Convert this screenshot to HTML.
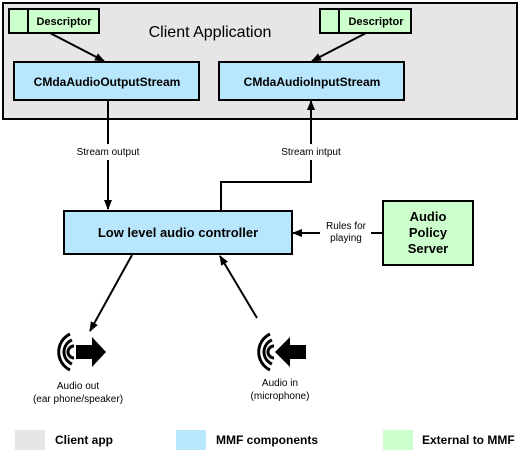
<!DOCTYPE html>
<html><head><style>
body{margin:0;background:#fff;}
svg{display:block;font-family:"Liberation Sans",Arial,sans-serif;}
.b{font-weight:bold;}
</style></head><body>
<svg width="530" height="455" viewBox="0 0 530 455">
<defs>
<marker id="a" markerWidth="10" markerHeight="8" refX="9" refY="4" orient="auto" markerUnits="userSpaceOnUse"><path d="M0,0 L10,4 L0,8 z" fill="#000"/></marker>
</defs>
<rect x="3" y="3" width="514" height="116" fill="#e6e6e6" stroke="#000" stroke-width="2"/>
<text x="210" y="37" font-size="16" text-anchor="middle">Client Application</text>
<rect x="9" y="9" width="90" height="24" fill="#ccffcc" stroke="#000" stroke-width="2"/>
<line x1="28" y1="9" x2="28" y2="33" stroke="#000" stroke-width="2"/>
<text x="64" y="25" font-size="11" class="b" text-anchor="middle">Descriptor</text>
<rect x="320" y="9" width="91" height="24" fill="#ccffcc" stroke="#000" stroke-width="2"/>
<line x1="339" y1="9" x2="339" y2="33" stroke="#000" stroke-width="2"/>
<text x="376" y="25" font-size="11" class="b" text-anchor="middle">Descriptor</text>
<rect x="14" y="62" width="185" height="38" fill="#b8e6fc" stroke="#000" stroke-width="2"/>
<text x="107" y="86" font-size="12" class="b" text-anchor="middle">CMdaAudioOutputStream</text>
<rect x="219" y="62" width="185" height="38" fill="#b8e6fc" stroke="#000" stroke-width="2"/>
<text x="312" y="86" font-size="12" class="b" text-anchor="middle">CMdaAudioInputStream</text>
<line x1="50" y1="33" x2="104" y2="61" stroke="#000" stroke-width="2" marker-end="url(#a)"/>
<line x1="366" y1="33" x2="312" y2="61" stroke="#000" stroke-width="2" marker-end="url(#a)"/>
<line x1="108" y1="100" x2="108" y2="144" stroke="#000" stroke-width="2"/>
<line x1="108" y1="160" x2="108" y2="209" stroke="#000" stroke-width="2" marker-end="url(#a)"/>
<text x="108" y="155" font-size="10" text-anchor="middle">Stream output</text>
<polyline points="221,210 221,182 311,182 311,160" fill="none" stroke="#000" stroke-width="2"/>
<line x1="311" y1="144" x2="311" y2="101" stroke="#000" stroke-width="2" marker-end="url(#a)"/>
<text x="311" y="155" font-size="10" text-anchor="middle">Stream intput</text>
<rect x="64" y="211" width="228" height="43" fill="#b8e6fc" stroke="#000" stroke-width="2"/>
<text x="178" y="237" font-size="13" class="b" text-anchor="middle">Low level audio controller</text>
<rect x="383" y="201" width="90" height="64" fill="#ccffcc" stroke="#000" stroke-width="2"/>
<text x="428" y="221" font-size="13" class="b" text-anchor="middle">Audio</text>
<text x="428" y="237" font-size="13" class="b" text-anchor="middle">Policy</text>
<text x="428" y="253" font-size="13" class="b" text-anchor="middle">Server</text>
<line x1="383" y1="233" x2="371" y2="233" stroke="#000" stroke-width="2"/>
<line x1="320" y1="233" x2="293" y2="233" stroke="#000" stroke-width="2" marker-end="url(#a)"/>
<text x="346" y="229" font-size="10" text-anchor="middle">Rules for</text>
<text x="346" y="241" font-size="10" text-anchor="middle">playing</text>
<line x1="132" y1="255" x2="90" y2="331" stroke="#000" stroke-width="2" marker-end="url(#a)"/>
<line x1="257" y1="318" x2="220" y2="256" stroke="#000" stroke-width="2" marker-end="url(#a)"/>
<g fill="none" stroke="#000" stroke-width="3">
<path d="M70,334 A20,20 0 0 0 70,370"/><path d="M72,340 A13,13 0 0 0 72,364"/><path d="M74,346 A6,6 0 0 0 74,358"/>
<path d="M270,334 A20,20 0 0 0 270,370"/><path d="M272,340 A13,13 0 0 0 272,364"/><path d="M274,346 A6,6 0 0 0 274,358"/>
</g>
<path d="M76,345 L92,345 L92,337 L106,352 L92,367 L92,359 L76,359 z" fill="#000"/>
<path d="M306,345 L290,345 L290,337 L275,352 L290,367 L290,359 L306,359 z" fill="#000"/>
<text x="78" y="389" font-size="10" text-anchor="middle">Audio out</text>
<text x="78" y="402" font-size="10" text-anchor="middle">(ear phone/speaker)</text>
<text x="280" y="386" font-size="10" text-anchor="middle">Audio in</text>
<text x="280" y="399" font-size="10" text-anchor="middle">(microphone)</text>
<rect x="15" y="430" width="30" height="20" fill="#e6e6e6"/>
<text x="55" y="444" font-size="12" class="b">Client app</text>
<rect x="176" y="430" width="30" height="20" fill="#b8e6fc"/>
<text x="216" y="444" font-size="12" class="b">MMF components</text>
<rect x="383" y="430" width="30" height="20" fill="#ccffcc"/>
<text x="422" y="444" font-size="12" class="b">External to MMF</text>
</svg>
</body></html>
